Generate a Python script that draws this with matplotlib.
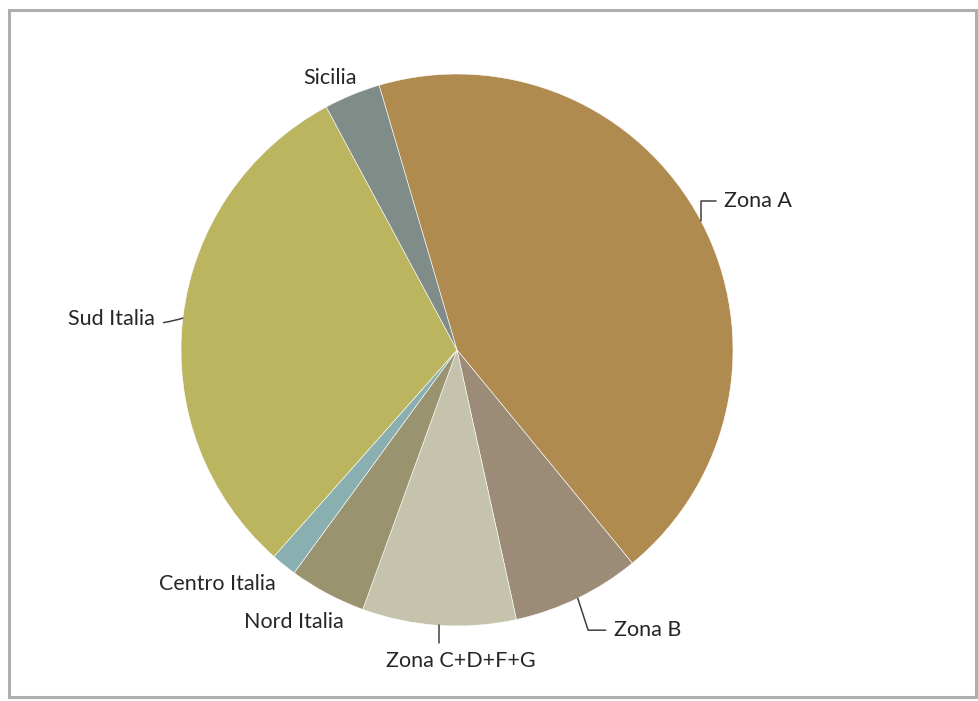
import numpy as np
import matplotlib.pyplot as plt
from matplotlib.patches import Rectangle

# share of each zone, clockwise from the top
zones = ["Zona A", "Zona B", "Zona C+D+F+G", "Nord Italia",
         "Centro Italia", "Sud Italia", "Sicilia"]
shares = [43.6, 7.5, 9.0, 4.5, 1.5, 30.6, 3.3]
colors = ["#B08B50", "#9C8B76", "#C5C3AB", "#9A936F",
          "#8AAFB0", "#BBB55F", "#7F8C87"]

# label placement: offset (px) from the wedge edge, and leader style
label_offsets = {
    "Zona A": (57, 20),
    "Zona B": (70, -32),
    "Zona C+D+F+G": (22, -36),
    "Nord Italia": (-33, -28),
    "Centro Italia": (-66, -19),
    "Sud Italia": (-71, -1),
    "Sicilia": (-22, 17),
}
leaders = {
    "Zona A": "angle,angleA=0,angleB=90,rad=0",
    "Zona B": "angle,angleA=0,angleB=-72,rad=0",
    "Zona C+D+F+G": "angle,angleA=0,angleB=90,rad=0",
    "Sud Italia": "arc3,rad=0.15",
}

W, H = 979, 701
fig = plt.figure(figsize=(W / 100, H / 100), dpi=100)
fig.patch.set_facecolor("white")

cx, cy, r = 457, 350, 276
ax = fig.add_axes([(cx - r) / W, (H - cy - r) / H, 2 * r / W, 2 * r / H])
ax.axis("off")

start = 106.4
wedges, _ = ax.pie(shares, colors=colors, startangle=start, counterclock=False,
                   radius=1.0, center=(0, 0), frame=False,
                   wedgeprops=dict(edgecolor="white", linewidth=0.4))
ax.set_xlim(-1, 1)
ax.set_ylim(-1, 1)
ax.set_aspect("equal")

font = ["Lato", "DejaVu Sans"]
for w, name in zip(wedges, zones):
    mid = np.deg2rad((w.theta1 + w.theta2) / 2)
    edge = (np.cos(mid), np.sin(mid))
    kw = {}
    if name in leaders:
        kw["arrowprops"] = dict(arrowstyle="-", color="#404040", lw=1.1,
                                connectionstyle=leaders[name],
                                shrinkA=4, shrinkB=0)
    ax.annotate(name, xy=edge, xytext=label_offsets[name],
                textcoords="offset pixels", ha="center", va="center",
                fontsize=15.5, family=font, color="#262626",
                annotation_clip=False, **kw)

# grey chart-area border
fig.patches.append(Rectangle((9 / W, 4 / H), 967 / W, 687 / H,
                             transform=fig.transFigure, fill=False,
                             edgecolor="#AEAEAE", linewidth=2.2))

fig.savefig("out.png", dpi=100, facecolor="white")
